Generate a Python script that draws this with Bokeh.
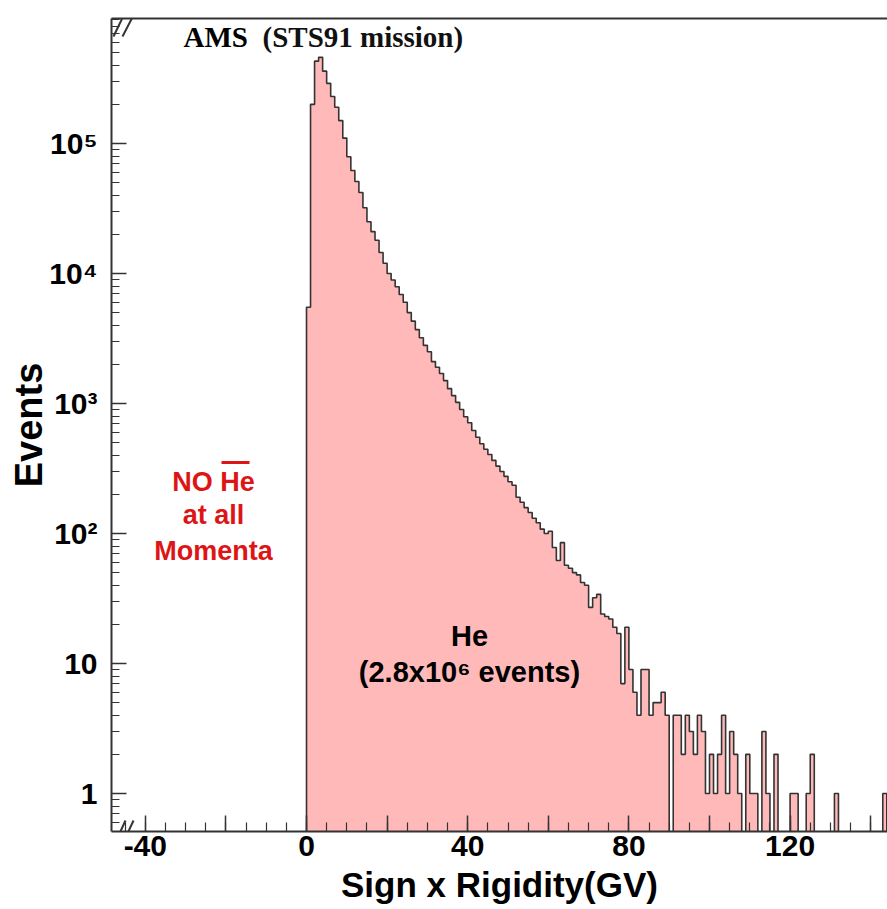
import math
from bokeh.plotting import figure
from bokeh.models import Range1d, SingleIntervalTicker, LogTicker, LinearAxis, FixedTicker, Label, Arrow
from bokeh.embed import file_html
from bokeh.resources import INLINE

# ---------------- data ----------------
bin_width = 1.0          # GV, histogram starts at 0 GV
counts = [
    5500, 200000, 430000, 460000, 360000, 290000, 230000, 190000, 150000, 110000,
    79000, 62000, 51000, 42000, 32000, 25000, 21000, 18000, 14500, 12000,
    10000, 8900, 7900, 6900, 6000, 5000, 4300, 3700, 3200, 2800,
    2500, 2100, 1900, 1700, 1500, 1300, 1150, 1020, 900, 790,
    710, 620, 550, 490, 445, 405, 365, 330, 300, 275,
    250, 235, 190, 174, 158, 145, 131, 121, 108, 100,
    104, 78, 62, 85, 57, 54, 50, 48, 42, 40,
    27, 32, 34, 24, 23, 22, 19, 17, 7, 19,
    9, 6, 4, 9, 9, 4, 5, 5, 6, 4,
    0, 4, 4, 2, 4, 3, 2, 4, 3, 1,
    2, 1, 2, 4, 1, 3, 2, 1, 0, 2,
    1, 1, 0, 3, 1, 0, 2, 0, 0, 0,
    1, 1, 0, 0, 1, 2, 0, 0, 0, 0,
    0, 1, 0, 0, 0, 0, 0, 0, 0, 0,
    0, 0, 0, 1, 0,
]
x_tick_labels = {-40: "-40", 0: "0", 40: "40", 80: "80", 120: "120"}
y_tick_labels = {1: "1", 10: "10", 100: "10²", 1000: "10³", 10000: "10⁴", 100000: "10⁵"}
x_title = "Sign x Rigidity(GV)"
y_title = "Events"
title_main = "AMS"
title_sub = "(STS91 mission)"
note_lines = ["NO He", "at all", "Momenta"]
he_lines = ["He", "(2.8x10⁶ events)"]

# ---------------- styling / layout ----------------
PINK = "#ffb9b9"
RED = "#dd1515"
LINE = "#333333"
FONT = "Liberation Sans"
X0, X1 = -48.39, 144.17
Y0, Y1 = 0.51, 9.15e5
FLOOR = 0.05

# helpers converting page pixels (of the reference) to data coordinates
def dx(px):
    return X0 + (px - 111) / 4.03
def dy(py):
    return 10 ** ((793 - py) / 130.0)

p = figure(width=887, height=906, x_range=Range1d(X0, X1), y_range=Range1d(Y0, Y1),
           y_axis_type="log", output_backend="svg", toolbar_location=None,
           min_border_left=111, min_border_right=0, min_border_top=18, min_border_bottom=75)
p.grid.visible = False
p.outline_line_color = None
p.background_fill_color = "white"
p.border_fill_color = "white"

lefts = [i * bin_width for i in range(len(counts))]
rights = [l + bin_width for l in lefts]
tops = [c if c > 0 else FLOOR for c in counts]

xs = [lefts[0]]
ys = [FLOOR]
for l, r, t in zip(lefts, rights, tops):
    xs += [l, r]
    ys += [t, t]
xs.append(rights[-1])
ys.append(FLOOR)
p.patch(xs, ys, fill_color=PINK, line_color=None)
p.line(xs, ys, line_color=LINE, line_width=1.6)

# axes
xa = p.xaxis[0]
xa.ticker = SingleIntervalTicker(interval=20, num_minor_ticks=4)
xa.major_label_overrides = {v: x_tick_labels.get(v, "") for v in range(-60, 180, 20)}
xa.major_tick_in = 16
xa.major_tick_out = 0
xa.minor_tick_in = 9
xa.minor_tick_out = 0
xa.axis_label = x_title
ya = p.yaxis[0]
ya.ticker = LogTicker(num_minor_ticks=10)
ya.major_label_overrides = y_tick_labels
ya.major_tick_in = 15
ya.major_tick_out = 0
ya.minor_tick_in = 8
ya.minor_tick_out = 0
ya.axis_label = y_title
for ax in (xa, ya):
    ax.axis_line_width = 2
    ax.axis_line_color = LINE
    ax.major_tick_line_color = LINE
    ax.minor_tick_line_color = LINE
    ax.major_tick_line_width = 1.5
    ax.minor_tick_line_width = 1.2
    ax.major_label_text_font = FONT
    ax.major_label_text_font_style = "bold"
    ax.major_label_text_color = "black"
    ax.axis_label_text_font = FONT
    ax.axis_label_text_font_style = "bold"
    ax.axis_label_text_color = "black"
xa.major_label_text_font_size = "30px"
xa.major_label_standoff = 4
xa.axis_label_text_font_size = "35px"
xa.axis_label_standoff = 6
ya.major_label_text_font_size = "30px"
ya.major_label_standoff = 14
ya.axis_label_text_font_size = "38px"
ya.axis_label_standoff = -4

top_ax = LinearAxis(ticker=FixedTicker(ticks=[]), major_label_text_font_size="0px",
                    axis_line_width=2, axis_line_color=LINE,
                    major_tick_line_color=None, minor_tick_line_color=None)
p.add_layout(top_ax, "above")

# title
p.add_layout(Label(x=dx(183), y=dy(37), text=title_main, text_font="Liberation Serif",
                   text_font_style="bold", text_font_size="29px", text_color="black",
                   text_align="left", text_baseline="middle"))
p.add_layout(Label(x=dx(262), y=dy(37), text=title_sub, text_font="Liberation Serif",
                   text_font_style="bold", text_font_size="29px", text_color="#111111",
                   text_align="left", text_baseline="middle"))

# red note
for txt, py in zip(note_lines, [482, 515, 551]):
    p.add_layout(Label(x=dx(213), y=dy(py), text=txt, text_font=FONT, text_font_style="bold",
                       text_font_size="27px", text_color=RED, text_align="center",
                       text_baseline="middle"))
p.add_layout(Arrow(start=None, end=None, x_start=dx(221), y_start=dy(462), x_end=dx(249),
                   y_end=dy(462), line_color=RED, line_width=3))

# He label
for txt, py in zip(he_lines, [636, 672]):
    p.add_layout(Label(x=dx(469), y=dy(py), text=txt, text_font=FONT, text_font_style="bold",
                       text_font_size="29px", text_color="black", text_align="center",
                       text_baseline="middle"))

# axis break marks (pairs of slanted strokes), in canvas pixels
marks = [(113, 36, 126, 9), (122, 36, 136, 9), (113, 846, 125, 820), (121, 846, 133, 820)]
for (x1, y1, x2, y2) in marks:
    try:
        a = Arrow(start=None, end=None, x_start=x1, y_start=y1, x_end=x2, y_end=y2,
                  start_units="canvas", end_units="canvas", line_color=LINE, line_width=2)
    except Exception:
        a = Arrow(start=None, end=None, x_start=dx(x1), y_start=dy(y1), x_end=dx(x2),
                  y_end=dy(y2), line_color=LINE, line_width=2)
    p.add_layout(a)

open("out.html", "w").write(file_html(p, INLINE))
